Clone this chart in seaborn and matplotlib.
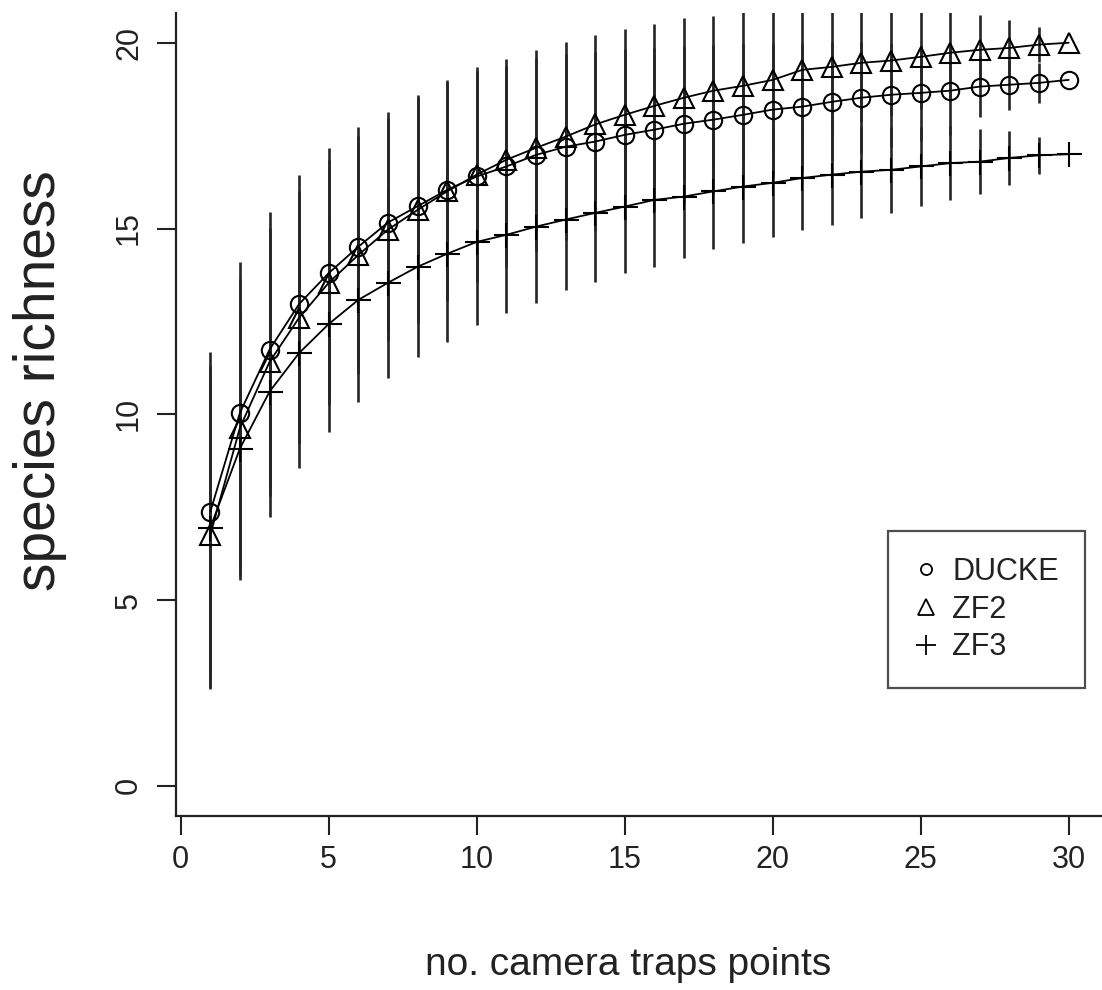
import numpy as np
import pandas as pd
import matplotlib
matplotlib.use("Agg")
import matplotlib.pyplot as plt
from matplotlib.lines import Line2D
import seaborn as sns

# ---------------- data ----------------
points = list(range(1, 31))
series_names = ["DUCKE", "ZF2", "ZF3"]

ducke = [7.38, 10.04, 11.74, 12.97, 13.80, 14.51, 15.16, 15.60, 16.04, 16.40,
         16.67, 16.98, 17.20, 17.34, 17.52, 17.66, 17.82, 17.93, 18.06, 18.20,
         18.28, 18.41, 18.52, 18.60, 18.65, 18.71, 18.82, 18.87, 18.92, 19.00]
zf2 = [6.76, 9.64, 11.41, 12.60, 13.54, 14.29, 14.97, 15.50, 16.00, 16.45,
       16.85, 17.17, 17.47, 17.80, 18.06, 18.30, 18.52, 18.71, 18.84, 19.00,
       19.27, 19.35, 19.46, 19.52, 19.62, 19.73, 19.81, 19.86, 19.95, 20.00]
zf3 = [6.95, 9.08, 10.61, 11.65, 12.43, 13.08, 13.54, 13.97, 14.32, 14.64,
       14.83, 15.05, 15.24, 15.42, 15.59, 15.77, 15.86, 16.00, 16.13, 16.23,
       16.36, 16.45, 16.53, 16.58, 16.67, 16.76, 16.80, 16.90, 16.97, 17.00]

sd_ducke = [4.30, 4.06, 3.71, 3.48, 3.37, 3.23, 2.98, 3.00, 2.96, 2.85,
            2.70, 2.60, 2.50, 2.40, 2.30, 2.20, 2.10, 2.00, 1.90, 1.80,
            1.70, 1.60, 1.50, 1.40, 1.30, 1.20, 0.82, 0.67, 0.54, 0.00]
sd_zf2 = [4.10, 4.00, 3.60, 3.40, 3.30, 3.20, 3.00, 3.05, 2.95, 2.90,
          2.72, 2.63, 2.56, 2.40, 2.32, 2.20, 2.15, 2.02, 1.98, 1.90,
          1.80, 1.70, 1.60, 1.50, 1.40, 1.30, 0.94, 0.74, 0.48, 0.00]
sd_zf3 = [4.35, 3.55, 3.37, 3.09, 2.90, 2.74, 2.56, 2.42, 2.37, 2.24,
          2.10, 2.05, 1.89, 1.85, 1.79, 1.80, 1.66, 1.55, 1.53, 1.45,
          1.39, 1.35, 1.24, 1.16, 1.07, 0.99, 0.88, 0.73, 0.49, 0.00]

x_ticks = [0, 5, 10, 15, 20, 25, 30]
y_ticks = [0, 5, 10, 15, 20]

# ---------------- style ----------------
sns.set_theme(style="white")
plt.rcParams["font.family"] = ["Liberation Sans", "DejaVu Sans"]

W, H = 1102, 990
fig = plt.figure(figsize=(W / 100, H / 100), dpi=100)
ax = fig.add_axes([176 / W, 1 - 816 / H, (1103 - 176) / W, (816 - 13) / H])

means = {"DUCKE": ducke, "ZF2": zf2, "ZF3": zf3}
sds = {"DUCKE": sd_ducke, "ZF2": sd_zf2, "ZF3": sd_zf3}
markers = {"DUCKE": "o", "ZF2": "^", "ZF3": "+"}
msizes = {"DUCKE": 12.5, "ZF2": 14.5, "ZF3": 18}

# error bars
for name in series_names:
    m = np.array(means[name])
    s = np.array(sds[name])
    keep = s > 0
    ax.vlines(np.array(points)[keep], (m - s)[keep], (m + s)[keep],
              color="#262626", linewidth=1.9, zorder=1)

# lines with markers
for name in series_names:
    df = pd.DataFrame({"x": points, "y": means[name]})
    sns.lineplot(data=df, x="x", y="y", ax=ax, color="black", linewidth=1.3,
                 marker=markers[name], markersize=msizes[name],
                 markerfacecolor="none", markeredgecolor="black",
                 markeredgewidth=1.5, legend=False, zorder=3)

ax.set_xlim(-0.16, 31.16)
ax.set_ylim(-0.81, 20.8)
ax.set_xticks(x_ticks)
ax.set_yticks(y_ticks)
ax.set_xticklabels([str(t) for t in x_ticks], fontsize=22, color="#222222")
ax.set_yticklabels([str(t) for t in y_ticks], fontsize=22, color="#222222",
                   rotation=90, va="center")
ax.tick_params(axis="both", direction="out", length=14, width=1.5,
               color="#222222", bottom=True, left=True)
ax.tick_params(axis="x", pad=7)
ax.tick_params(axis="y", pad=9)

for side in ["top", "right"]:
    ax.spines[side].set_visible(False)
for side in ["left", "bottom"]:
    ax.spines[side].set_color("#222222")
    ax.spines[side].set_linewidth(1.6)

ax.set_xlabel("no. camera traps points", fontsize=28, color="#222222")
ax.xaxis.label.set_va("center")
ax.xaxis.set_label_coords((628 - 176) / 927, (816 - 965) / 803)
ax.set_ylabel("species richness", fontsize=41, color="#222222")
ax.yaxis.label.set_va("center")
ax.yaxis.label.set_rotation_mode("default")
ax.yaxis.set_label_coords((40 - 176) / 927, (816 - 381) / 803)

handles = [Line2D([], [], linestyle="none", marker=markers[n],
                  markersize=ms, markerfacecolor="none",
                  markeredgecolor="black", markeredgewidth=1.3)
           for n, ms in zip(series_names, [8, 11, 14])]
leg = ax.legend(handles, series_names, loc="upper left",
                bbox_to_anchor=(888 / W, 1 - 531 / H),
                bbox_transform=fig.transFigure, borderaxespad=0,
                fontsize=22, frameon=True, fancybox=False,
                handlelength=0.8, handletextpad=0.45, labelspacing=0.25,
                borderpad=0.85)
leg.get_frame().set_edgecolor("#222222")
leg.get_frame().set_linewidth(1.6)
for t in leg.get_texts():
    t.set_color("#222222")

fig.savefig("out.png", dpi=100, facecolor="white")
